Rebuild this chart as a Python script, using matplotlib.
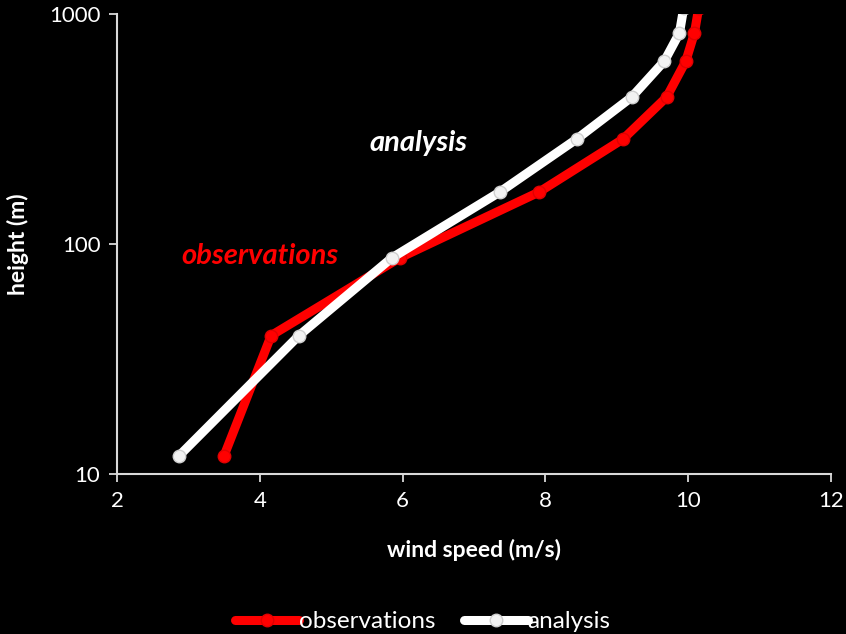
import matplotlib.pyplot as plt
from matplotlib.ticker import FixedLocator, NullLocator

# perfis de vento: altura (m) e velocidade (m/s)
altura = [12, 40, 87, 168, 286, 435, 625, 827, 1065]
vel_obs = [3.50, 4.16, 5.96, 7.91, 9.09, 9.70, 9.97, 10.09, 10.15]
vel_analise = [2.87, 4.55, 5.85, 7.36, 8.44, 9.21, 9.67, 9.88, 9.94]

xticks = [2, 4, 6, 8, 10, 12]
yticks = [10, 100, 1000]

vermelho = '#ff0000'
branco = '#ffffff'

plt.rcParams['font.family'] = ['Lato', 'DejaVu Sans']

fig = plt.figure(figsize=(8.46, 6.34), dpi=100, facecolor='black')
ax = fig.add_axes([0.1383, 0.2524, 0.8437, 0.7255], facecolor='black')

ax.plot(vel_obs, altura, color=vermelho, lw=6.5, marker='o', ms=9,
        mfc=vermelho, mec='#e00000', mew=1, label='observations',
        solid_capstyle='round', zorder=3)
ax.plot(vel_analise, altura, color=branco, lw=6.5, marker='o', ms=9,
        mfc='#f2f2f2', mec='#cfcfcf', mew=1, label='analysis',
        solid_capstyle='round', zorder=4)

ax.set_yscale('log')
ax.set_xlim(2, 12)
ax.set_ylim(10, 1000)
ax.xaxis.set_major_locator(FixedLocator(xticks))
ax.yaxis.set_major_locator(FixedLocator(yticks))
ax.yaxis.set_minor_locator(NullLocator())
ax.set_xticklabels([str(v) for v in xticks])
ax.set_yticklabels([str(v) for v in yticks])

for lado in ['top', 'right']:
    ax.spines[lado].set_visible(False)
for lado in ['left', 'bottom']:
    ax.spines[lado].set_color('#d9d9d9')
    ax.spines[lado].set_linewidth(1.5)
    ax.spines[lado].set_zorder(1)

ax.tick_params(axis='both', colors='#d9d9d9', labelcolor='white',
               labelsize=16, length=6, width=1.3, direction='out', pad=6)

ax.set_xlabel('wind speed (m/s)', color='white', fontsize=16.5,
              fontweight='bold', labelpad=20)
ax.set_ylabel('height (m)', color='white', fontsize=16.5,
              fontweight='bold', labelpad=14)

# rótulos das curvas
ax.text(4.0, 89, 'observations', color=vermelho, fontsize=21,
        fontweight='bold', fontstyle='italic', ha='center', va='center')
ax.text(6.22, 275, 'analysis', color=branco, fontsize=21,
        fontweight='bold', fontstyle='italic', ha='center', va='center')

leg = fig.legend(loc='lower center', bbox_to_anchor=(0.5, -0.032), ncol=2,
                 frameon=False, fontsize=17.5, handlelength=2.6,
                 handletextpad=0.0, columnspacing=1.2)
for t in leg.get_texts():
    t.set_color('white')

fig.savefig('out.png', dpi=100, facecolor='black')
